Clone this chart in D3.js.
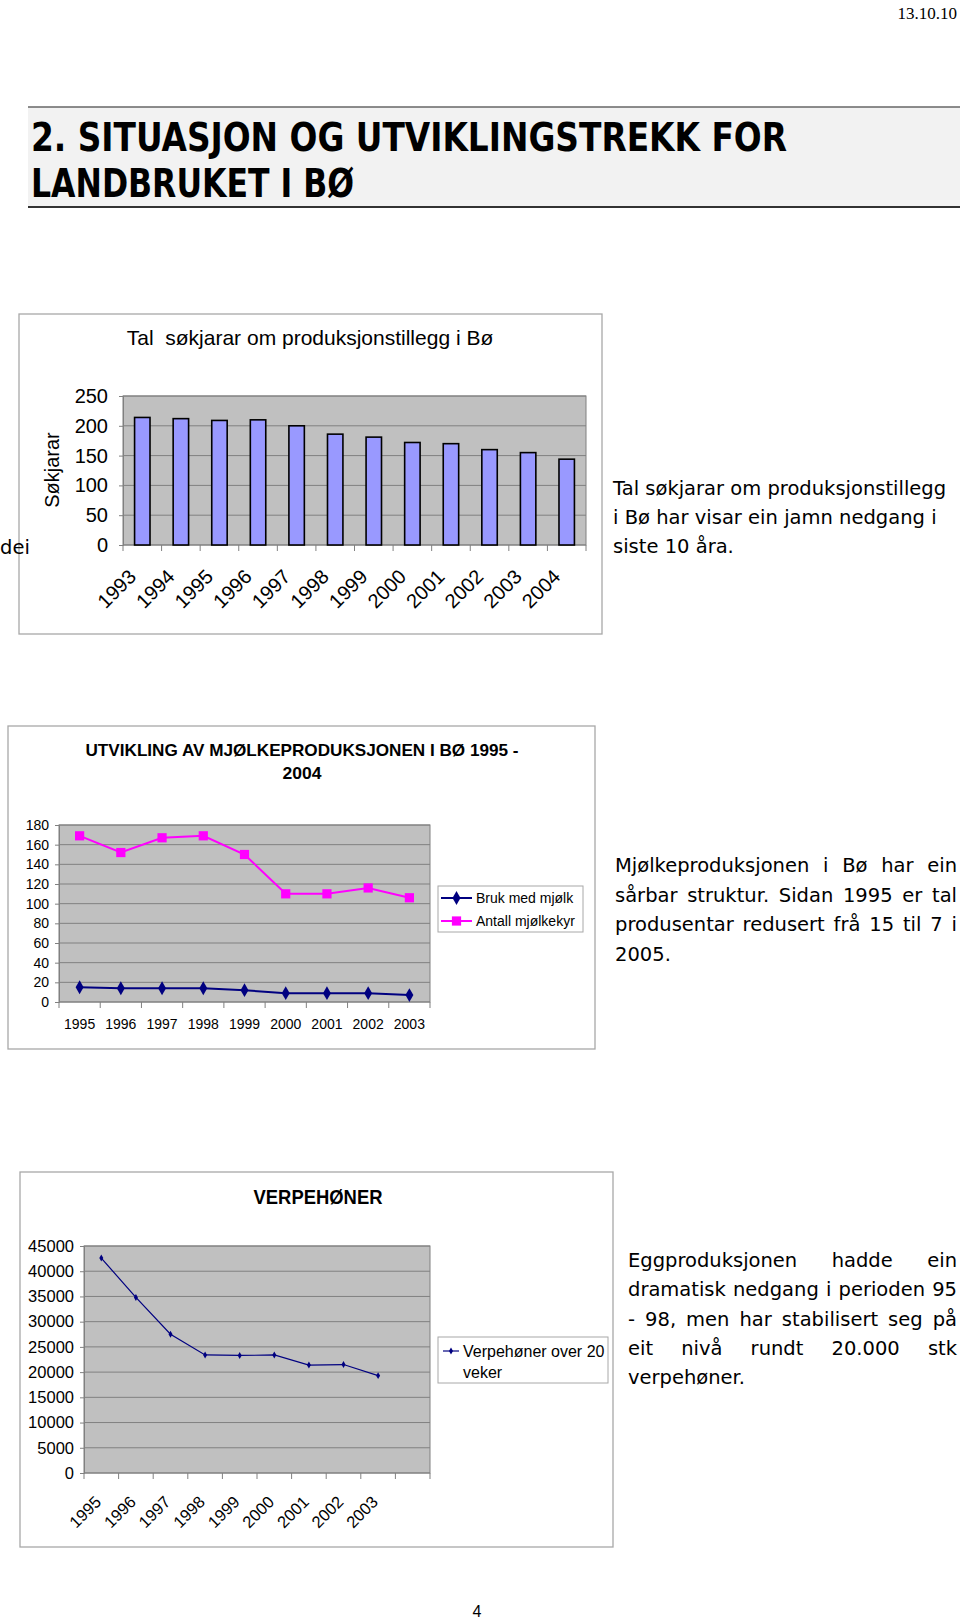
<!DOCTYPE html>
<html><head><meta charset="utf-8">
<script src="https://cdn.jsdelivr.net/npm/d3@7"></script>
<style>body{margin:0;background:#fff;} svg{display:block;} text{white-space:pre;}</style>
</head><body><svg id="c" width="960" height="1620"></svg>
<script>
// ---------------- DATA ----------------
const dateLabel = "13.10.10";
const headingLines = ["2. SITUASJON OG UTVIKLINGSTREKK FOR", "LANDBRUKET I BØ"];

// Chart 1
const title1 = "Tal  søkjarar om produksjonstillegg i Bø";
const yTitle1 = "Søkjarar";
const years1 = ["1993","1994","1995","1996","1997","1998","1999","2000","2001","2002","2003","2004"];
const sokjarar = [214,212,209,210,200,186,181,172,170,160,155,144];
const ticks1 = [0,50,100,150,200,250];
const text1 = ["Tal søkjarar om produksjonstillegg", "i Bø har visar ein jamn nedgang i", "siste 10 åra."];

// Chart 2
const title2 = ["UTVIKLING AV MJØLKEPRODUKSJONEN I BØ 1995 -", "2004"];
const years2 = ["1995","1996","1997","1998","1999","2000","2001","2002","2003"];
const brukMedMjolk = [15,14,14,14,12,9,9,9,7];
const antallMjolkekyr = [169,152,167,169,150,110,110,116,106];
const ticks2 = [0,20,40,60,80,100,120,140,160,180];
const legend2 = ["Bruk med mjølk", "Antall mjølkekyr"];
const text2 = ["Mjølkeproduksjonen i Bø har ein", "sårbar struktur. Sidan 1995 er tal", "produsentar redusert frå 15 til 7 i", "2005."];

// Chart 3
const title3 = "VERPEHØNER";
const years3 = ["1995","1996","1997","1998","1999","2000","2001","2002","2003",""];
const verpehoner = [42600,34800,27500,23400,23300,23400,21400,21500,19300];
const ticks3 = [0,5000,10000,15000,20000,25000,30000,35000,40000,45000];
const legend3 = ["Verpehøner over 20", "veker"];
const text3 = ["Eggproduksjonen hadde ein", "dramatisk nedgang i perioden 95", "- 98, men har stabilisert seg på", "eit nivå rundt 20.000 stk", "verpehøner."];
const strayWord = "dei";
const pageNumber = "4";

// ---------------- DRAWING ----------------
const svg = d3.select("#c");
const SANS = "'Liberation Sans', Arial, Helvetica, sans-serif";
const COMIC = "'DejaVu Sans', 'Noto Sans', sans-serif";
const GRID = "#808080";

// header
svg.append("text").attr("x", 957).attr("y", 19).attr("text-anchor", "end")
  .attr("font-family", "'Liberation Sans Narrow', 'Liberation Serif', serif").attr("font-size", 17).text(dateLabel);
svg.append("rect").attr("x", 28).attr("y", 107).attr("width", 932).attr("height", 100).attr("fill", "#f2f2f2");
svg.append("line").attr("x1", 28).attr("x2", 960).attr("y1", 107).attr("y2", 107).attr("stroke", "#666").attr("stroke-width", 1.5);
svg.append("line").attr("x1", 28).attr("x2", 960).attr("y1", 207).attr("y2", 207).attr("stroke", "#333").attr("stroke-width", 2);
const headW = [756, 323], headY = [151, 197];
headingLines.forEach((t, i) => {
  svg.append("text").attr("x", 31).attr("y", headY[i])
    .attr("font-family", "'DejaVu Sans Condensed', 'DejaVu Sans', sans-serif")
    .attr("font-weight", "bold").attr("font-size", 39)
    .attr("textLength", headW[i]).attr("lengthAdjust", "spacingAndGlyphs").text(t);
});

function frame(x, y, w, h) {
  svg.append("rect").attr("x", x).attr("y", y).attr("width", w).attr("height", h)
    .attr("fill", "#fff").attr("stroke", "#a8a8a8").attr("stroke-width", 1.3);
}

function para(lines, x, y0, lh, widths, size) {
  lines.forEach((ln, i) => {
    const y = y0 + i * lh;
    const words = ln.split(" ");
    const nodes = words.map(w => svg.append("text").attr("y", y)
      .attr("font-family", COMIC).attr("font-size", size).text(w));
    const ws = nodes.map(n => n.node().getComputedTextLength());
    let gap = size * 0.32;
    if (words.length > 1 && widths[i] != null) gap = (widths[i] - d3.sum(ws)) / (words.length - 1);
    let cx = x;
    nodes.forEach((n, j) => { n.attr("x", cx); cx += ws[j] + gap; });
  });
}

function axisStyle(g, size) {
  g.selectAll(".domain").attr("stroke", GRID);
  g.selectAll(".tick line").attr("stroke", GRID);
  g.selectAll("text").attr("font-family", SANS).attr("font-size", size).attr("fill", "#000");
}

// ---------- Chart 1 ----------
{
  const P = {x0: 123, x1: 586, y0: 396, y1: 545};
  frame(19, 314, 583, 320);
  svg.append("text").attr("x", 310).attr("y", 345).attr("text-anchor", "middle")
    .attr("font-family", SANS).attr("font-size", 21).text(title1);
  const x = d3.scaleBand().domain(years1).range([P.x0, P.x1]).paddingInner(0.6).paddingOuter(0.3);
  const y = d3.scaleLinear().domain([0, 250]).range([P.y1, P.y0]);
  svg.append("rect").attr("x", P.x0).attr("y", P.y0).attr("width", P.x1 - P.x0).attr("height", P.y1 - P.y0).attr("fill", "#c0c0c0");
  svg.append("g").selectAll("line").data(ticks1).join("line")
    .attr("x1", P.x0).attr("x2", P.x1).attr("y1", d => y(d)).attr("y2", d => y(d)).attr("stroke", GRID);
  svg.append("rect").attr("x", P.x0).attr("y", P.y0).attr("width", P.x1 - P.x0).attr("height", P.y1 - P.y0).attr("fill", "none").attr("stroke", GRID);
  svg.append("g").selectAll("rect").data(years1).join("rect")
    .attr("x", d => x(d)).attr("width", x.bandwidth())
    .attr("y", (d, i) => y(sokjarar[i])).attr("height", (d, i) => y(0) - y(sokjarar[i]))
    .attr("fill", "#9999ff").attr("stroke", "#000").attr("stroke-width", 1.6);
  const ga = svg.append("g").attr("transform", `translate(${P.x0},0)`)
    .call(d3.axisLeft(y).tickValues(ticks1).tickSize(4).tickPadding(11));
  axisStyle(ga, 20);
  const half = (x.step() - x.bandwidth()) / 2;
  const bounds = years1.map(d => x(d) - half).concat([P.x1]);
  svg.append("g").selectAll("line").data(bounds).join("line")
    .attr("x1", d => d).attr("x2", d => d).attr("y1", P.y1).attr("y2", P.y1 + 6).attr("stroke", GRID);
  svg.append("g").selectAll("text").data(years1).join("text")
    .attr("transform", d => `translate(${x(d) + x.bandwidth() / 2 - 5},${P.y1 + 33}) rotate(-45)`)
    .attr("text-anchor", "end").attr("font-family", SANS).attr("font-size", 20).text(d => d);
  svg.append("text").attr("transform", "translate(59,470) rotate(-90)").attr("text-anchor", "middle")
    .attr("font-family", SANS).attr("font-size", 20).text(yTitle1);
  svg.append("text").attr("x", 0).attr("y", 554).attr("font-family", COMIC).attr("font-size", 19.5).text(strayWord);
  para(text1, 613, 495, 29, [null, null, null], 19.5);
}

// ---------- Chart 2 ----------
{
  const P = {x0: 59, x1: 430, y0: 825, y1: 1002};
  frame(8, 726, 587, 323);
  const tw = [433, 39], ty = [756, 779];
  title2.forEach((t, i) => svg.append("text").attr("x", 302).attr("y", ty[i]).attr("text-anchor", "middle")
    .attr("font-family", SANS).attr("font-weight", "bold").attr("font-size", 17)
    .attr("textLength", tw[i]).attr("lengthAdjust", "spacingAndGlyphs").text(t));
  const xb = d3.scaleBand().domain(years2).range([P.x0, P.x1]);
  const x = d3.scalePoint().domain(years2).range([P.x0, P.x1]).padding(0.5);
  const y = d3.scaleLinear().domain([0, 180]).range([P.y1, P.y0]);
  svg.append("rect").attr("x", P.x0).attr("y", P.y0).attr("width", P.x1 - P.x0).attr("height", P.y1 - P.y0).attr("fill", "#c0c0c0");
  svg.append("g").selectAll("line").data(ticks2).join("line")
    .attr("x1", P.x0).attr("x2", P.x1).attr("y1", d => y(d)).attr("y2", d => y(d)).attr("stroke", GRID);
  svg.append("rect").attr("x", P.x0).attr("y", P.y0).attr("width", P.x1 - P.x0).attr("height", P.y1 - P.y0).attr("fill", "none").attr("stroke", GRID);
  const ga = svg.append("g").attr("transform", `translate(${P.x0},0)`)
    .call(d3.axisLeft(y).tickValues(ticks2).tickSize(4).tickPadding(6));
  axisStyle(ga, 14);
  const bounds = years2.map(d => xb(d)).concat([P.x1]);
  svg.append("g").selectAll("line").data(bounds).join("line")
    .attr("x1", d => d).attr("x2", d => d).attr("y1", P.y1).attr("y2", P.y1 + 6).attr("stroke", GRID);
  svg.append("g").selectAll("text").data(years2).join("text")
    .attr("x", d => x(d)).attr("y", P.y1 + 27).attr("text-anchor", "middle")
    .attr("font-family", SANS).attr("font-size", 14).text(d => d);
  const line = d3.line().x((d, i) => x(years2[i])).y(d => y(d));
  svg.append("path").datum(antallMjolkekyr).attr("d", line).attr("fill", "none").attr("stroke", "#ff00ff").attr("stroke-width", 2);
  svg.append("path").datum(brukMedMjolk).attr("d", line).attr("fill", "none").attr("stroke", "#000080").attr("stroke-width", 2);
  const sq = d3.symbol().type(d3.symbolSquare).size(85);
  const dm = d3.symbol().type(d3.symbolDiamond).size(55);
  svg.append("g").selectAll("path").data(antallMjolkekyr).join("path")
    .attr("transform", (d, i) => `translate(${x(years2[i])},${y(d)})`).attr("d", sq).attr("fill", "#ff00ff");
  svg.append("g").selectAll("path").data(brukMedMjolk).join("path")
    .attr("transform", (d, i) => `translate(${x(years2[i])},${y(d)})`).attr("d", dm).attr("fill", "#000080");
  // legend
  svg.append("rect").attr("x", 438).attr("y", 886).attr("width", 145).attr("height", 46)
    .attr("fill", "#fff").attr("stroke", "#a8a8a8");
  const lc = ["#000080", "#ff00ff"], ly = [898, 921], lsym = [dm, sq];
  legend2.forEach((t, i) => {
    svg.append("line").attr("x1", 441).attr("x2", 472).attr("y1", ly[i]).attr("y2", ly[i]).attr("stroke", lc[i]).attr("stroke-width", 2);
    svg.append("path").attr("transform", `translate(456.5,${ly[i]})`).attr("d", lsym[i]).attr("fill", lc[i]);
    svg.append("text").attr("x", 476).attr("y", ly[i] + 5).attr("font-family", SANS).attr("font-size", 14).text(t);
  });
  para(text2, 615, 872, 29.5, [342, 342, 342, null], 19.5);
}

// ---------- Chart 3 ----------
{
  const P = {x0: 84, x1: 430, y0: 1246, y1: 1473};
  frame(20, 1172, 593, 375);
  svg.append("text").attr("x", 318).attr("y", 1204).attr("text-anchor", "middle")
    .attr("font-family", SANS).attr("font-weight", "bold").attr("font-size", 20)
    .attr("textLength", 129).attr("lengthAdjust", "spacingAndGlyphs").text(title3);
  const xb = d3.scaleBand().domain(years3).range([P.x0, P.x1]);
  const y = d3.scaleLinear().domain([0, 45000]).range([P.y1, P.y0]);
  svg.append("rect").attr("x", P.x0).attr("y", P.y0).attr("width", P.x1 - P.x0).attr("height", P.y1 - P.y0).attr("fill", "#c0c0c0");
  svg.append("g").selectAll("line").data(ticks3).join("line")
    .attr("x1", P.x0).attr("x2", P.x1).attr("y1", d => y(d)).attr("y2", d => y(d)).attr("stroke", GRID);
  svg.append("rect").attr("x", P.x0).attr("y", P.y0).attr("width", P.x1 - P.x0).attr("height", P.y1 - P.y0).attr("fill", "none").attr("stroke", GRID);
  const ga = svg.append("g").attr("transform", `translate(${P.x0},0)`)
    .call(d3.axisLeft(y).tickValues(ticks3).tickFormat(d3.format("d")).tickSize(4).tickPadding(6));
  axisStyle(ga, 16.5);
  const bounds = years3.map(d => xb(d)).concat([P.x1]);
  svg.append("g").selectAll("line").data(bounds).join("line")
    .attr("x1", d => d).attr("x2", d => d).attr("y1", P.y1).attr("y2", P.y1 + 6).attr("stroke", GRID);
  const cx = d => xb(d) + xb.bandwidth() / 2;
  svg.append("g").selectAll("text").data(years3.filter(d => d !== "")).join("text")
    .attr("transform", d => `translate(${cx(d) + 1},${P.y1 + 30}) rotate(-45)`)
    .attr("text-anchor", "end").attr("font-family", SANS).attr("font-size", 16.5).text(d => d);
  const line = d3.line().x((d, i) => cx(years3[i])).y(d => y(d));
  svg.append("path").datum(verpehoner).attr("d", line).attr("fill", "none").attr("stroke", "#000080").attr("stroke-width", 1.2);
  const dm = d3.symbol().type(d3.symbolDiamond).size(14);
  svg.append("g").selectAll("path").data(verpehoner).join("path")
    .attr("transform", (d, i) => `translate(${cx(years3[i])},${y(d)})`).attr("d", dm).attr("fill", "#000080");
  svg.append("rect").attr("x", 438).attr("y", 1337).attr("width", 170).attr("height", 46)
    .attr("fill", "#fff").attr("stroke", "#a8a8a8");
  svg.append("line").attr("x1", 443).attr("x2", 459).attr("y1", 1351).attr("y2", 1351).attr("stroke", "#000080").attr("stroke-width", 1.2);
  svg.append("path").attr("transform", "translate(451,1351)").attr("d", dm).attr("fill", "#000080");
  legend3.forEach((t, i) => svg.append("text").attr("x", 463).attr("y", 1357 + i * 21)
    .attr("font-family", SANS).attr("font-size", 16).text(t));
  para(text3, 628, 1267, 29.3, [329, 329, 329, 329, null], 19.5);
}

svg.append("text").attr("x", 477).attr("y", 1617).attr("text-anchor", "middle")
  .attr("font-family", SANS).attr("font-size", 16).text(pageNumber);
</script>
</body></html>
